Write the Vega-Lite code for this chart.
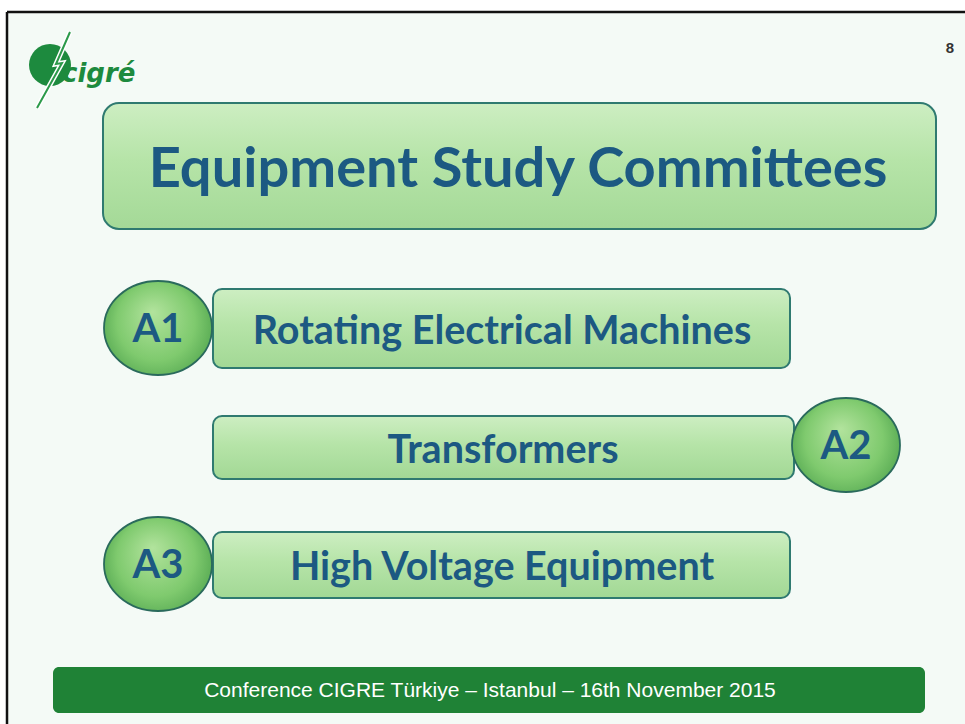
{
  "$schema": "https://vega.github.io/schema/vega-lite/v6.json",
  "width": 965,
  "height": 724,
  "autosize": {"type": "none"},
  "padding": 0,
  "background": "#ffffff",
  "config": {"view": {"stroke": null}},
  "datasets": {
    "frame": [{"x": 7, "x2": 965, "y": 12, "y2": 724}],
    "borders": [
      {"x": 7, "x2": 7, "y": 12, "y2": 724},
      {"x": 7, "x2": 965, "y": 12, "y2": 12}
    ],
    "boxes": [
      {"id": "title", "x": 103, "x2": 936, "y": 103, "y2": 229},
      {"id": "A1", "x": 213, "x2": 790, "y": 289, "y2": 368},
      {"id": "A2", "x": 213, "x2": 794, "y": 416, "y2": 479},
      {"id": "A3", "x": 213, "x2": 790, "y": 532, "y2": 598}
    ],
    "badges": [
      {"label": "A1", "x": 158, "y": 328},
      {"label": "A2", "x": 846, "y": 445},
      {"label": "A3", "x": 158, "y": 564}
    ],
    "labels": [
      {"text": "Rotating Electrical Machines", "x": 502, "y": 330},
      {"text": "Transformers", "x": 503, "y": 449},
      {"text": "High Voltage Equipment", "x": 502, "y": 566}
    ],
    "title": [{"text": "Equipment Study Committees", "x": 518, "y": 168}],
    "footer": [{"x": 53, "x2": 925, "y": 667, "y2": 713}],
    "footerText": [{"text": "Conference CIGRE Türkiye – Istanbul – 16th November 2015", "x": 490, "y": 691}],
    "page": [{"text": "8", "x": 950, "y": 48}],
    "globe": [{"x": 50, "y": 65}],
    "logoText": [{"text": "cigré", "x": 62, "y": 74}],
    "bolt": [
      {"o": 1, "x": 70, "y": 32},
      {"o": 2, "x": 56, "y": 64},
      {"o": 3, "x": 62, "y": 63},
      {"o": 4, "x": 37, "y": 108}
    ]
  },
  "layer": [
    {
      "data": {"name": "frame"},
      "mark": {"type": "rect", "fill": "#f4faf6"},
      "encoding": {
        "x": {"field": "x", "type": "quantitative", "scale": {"domain": [0, 965], "nice": false, "zero": false}, "axis": null},
        "x2": {"field": "x2"},
        "y": {"field": "y", "type": "quantitative", "scale": {"domain": [0, 724], "nice": false, "zero": false, "reverse": true}, "axis": null},
        "y2": {"field": "y2"}
      }
    },
    {
      "data": {"name": "borders"},
      "mark": {"type": "rule", "stroke": "#111111", "strokeWidth": 2.5},
      "encoding": {
        "x": {"field": "x", "type": "quantitative"},
        "x2": {"field": "x2"},
        "y": {"field": "y", "type": "quantitative"},
        "y2": {"field": "y2"}
      }
    },
    {
      "data": {"name": "boxes"},
      "transform": [{"filter": "datum.id === 'title'"}],
      "mark": {"type": "rect", "cornerRadius": 16, "fill": "#9fb8a8", "opacity": 0.6, "xOffset": 2, "yOffset": 3},
      "encoding": {
        "x": {"field": "x", "type": "quantitative"},
        "x2": {"field": "x2"},
        "y": {"field": "y", "type": "quantitative"},
        "y2": {"field": "y2"}
      }
    },
    {
      "data": {"name": "boxes"},
      "transform": [{"filter": "datum.id !== 'title'"}],
      "mark": {"type": "rect", "cornerRadius": 9, "fill": "#9fb8a8", "opacity": 0.6, "xOffset": 2, "yOffset": 3},
      "encoding": {
        "x": {"field": "x", "type": "quantitative"},
        "x2": {"field": "x2"},
        "y": {"field": "y", "type": "quantitative"},
        "y2": {"field": "y2"}
      }
    },
    {
      "data": {"name": "boxes"},
      "transform": [{"filter": "datum.id === 'title'"}],
      "mark": {
        "type": "rect",
        "cornerRadius": 16,
        "stroke": "#2f7a70",
        "strokeWidth": 2,
        "fill": {"gradient": "linear", "x1": 0, "y1": 0, "x2": 0, "y2": 1,
          "stops": [{"offset": 0, "color": "#cdeec2"}, {"offset": 0.45, "color": "#b6e4a8"}, {"offset": 1, "color": "#a4d997"}]}
      },
      "encoding": {
        "x": {"field": "x", "type": "quantitative"},
        "x2": {"field": "x2"},
        "y": {"field": "y", "type": "quantitative"},
        "y2": {"field": "y2"}
      }
    },
    {
      "data": {"name": "boxes"},
      "transform": [{"filter": "datum.id !== 'title'"}],
      "mark": {
        "type": "rect",
        "cornerRadius": 9,
        "stroke": "#2f7a70",
        "strokeWidth": 2,
        "fill": {"gradient": "linear", "x1": 0, "y1": 0, "x2": 0, "y2": 1,
          "stops": [{"offset": 0, "color": "#cdeec2"}, {"offset": 0.45, "color": "#b6e4a8"}, {"offset": 1, "color": "#a2d895"}]}
      },
      "encoding": {
        "x": {"field": "x", "type": "quantitative"},
        "x2": {"field": "x2"},
        "y": {"field": "y", "type": "quantitative"},
        "y2": {"field": "y2"}
      }
    },
    {
      "data": {"name": "badges"},
      "mark": {
        "type": "point",
        "filled": true,
        "size": 11664,
        "shape": "M-1,0A1,0.87 0 1,1 1,0A1,0.87 0 1,1 -1,0Z",
        "stroke": "#2a6a5c",
        "strokeWidth": 1.8,
        "opacity": 1,
        "fill": {"gradient": "radial", "x1": 0.45, "y1": 0.35, "r1": 0, "x2": 0.5, "y2": 0.5, "r2": 0.6,
          "stops": [{"offset": 0, "color": "#b2e39d"}, {"offset": 0.6, "color": "#7fca6e"}, {"offset": 1, "color": "#4a9f4a"}]}
      },
      "encoding": {
        "x": {"field": "x", "type": "quantitative"},
        "y": {"field": "y", "type": "quantitative"}
      }
    },
    {
      "data": {"name": "badges"},
      "mark": {"type": "text", "font": "Lato", "fontWeight": "bold", "fontSize": 40, "color": "#1c5982", "align": "center", "baseline": "middle", "dy": 2},
      "encoding": {
        "x": {"field": "x", "type": "quantitative"},
        "y": {"field": "y", "type": "quantitative"},
        "text": {"field": "label"}
      }
    },
    {
      "data": {"name": "labels"},
      "mark": {"type": "text", "font": "Lato", "fontWeight": "bold", "fontSize": 39.5, "color": "#1c5982", "align": "center", "baseline": "middle", "dy": 2},
      "encoding": {
        "x": {"field": "x", "type": "quantitative"},
        "y": {"field": "y", "type": "quantitative"},
        "text": {"field": "text"}
      }
    },
    {
      "data": {"name": "title"},
      "mark": {"type": "text", "font": "Lato", "fontWeight": "bold", "fontSize": 56, "color": "#1c5982", "align": "center", "baseline": "middle", "dy": 2},
      "encoding": {
        "x": {"field": "x", "type": "quantitative"},
        "y": {"field": "y", "type": "quantitative"},
        "text": {"field": "text"}
      }
    },
    {
      "data": {"name": "footer"},
      "mark": {"type": "rect", "cornerRadius": 6, "fill": "#1f8236"},
      "encoding": {
        "x": {"field": "x", "type": "quantitative"},
        "x2": {"field": "x2"},
        "y": {"field": "y", "type": "quantitative"},
        "y2": {"field": "y2"}
      }
    },
    {
      "data": {"name": "footerText"},
      "mark": {"type": "text", "font": "Liberation Sans", "fontSize": 21, "color": "#ffffff", "align": "center", "baseline": "middle"},
      "encoding": {
        "x": {"field": "x", "type": "quantitative"},
        "y": {"field": "y", "type": "quantitative"},
        "text": {"field": "text"}
      }
    },
    {
      "data": {"name": "page"},
      "mark": {"type": "text", "font": "Liberation Sans", "fontWeight": "bold", "fontSize": 15, "color": "#333333", "align": "center", "baseline": "middle"},
      "encoding": {
        "x": {"field": "x", "type": "quantitative"},
        "y": {"field": "y", "type": "quantitative"},
        "text": {"field": "text"}
      }
    },
    {
      "data": {"name": "globe"},
      "mark": {"type": "point", "shape": "circle", "filled": true, "size": 1764, "color": "#1d8a3e", "opacity": 1},
      "encoding": {
        "x": {"field": "x", "type": "quantitative"},
        "y": {"field": "y", "type": "quantitative"}
      }
    },
    {
      "data": {"name": "bolt"},
      "mark": {"type": "line", "color": "#ffffff", "strokeWidth": 5},
      "encoding": {
        "x": {"field": "x", "type": "quantitative"},
        "y": {"field": "y", "type": "quantitative"},
        "order": {"field": "o", "type": "quantitative"}
      }
    },
    {
      "data": {"name": "bolt"},
      "mark": {"type": "line", "color": "#2c9a4a", "strokeWidth": 2},
      "encoding": {
        "x": {"field": "x", "type": "quantitative"},
        "y": {"field": "y", "type": "quantitative"},
        "order": {"field": "o", "type": "quantitative"}
      }
    },
    {
      "data": {"name": "logoText"},
      "mark": {"type": "text", "font": "DejaVu Sans", "fontWeight": "bold", "fontStyle": "italic", "fontSize": 26, "color": "#1d8a3e", "align": "left", "baseline": "middle"},
      "encoding": {
        "x": {"field": "x", "type": "quantitative"},
        "y": {"field": "y", "type": "quantitative"},
        "text": {"field": "text"}
      }
    }
  ]
}
